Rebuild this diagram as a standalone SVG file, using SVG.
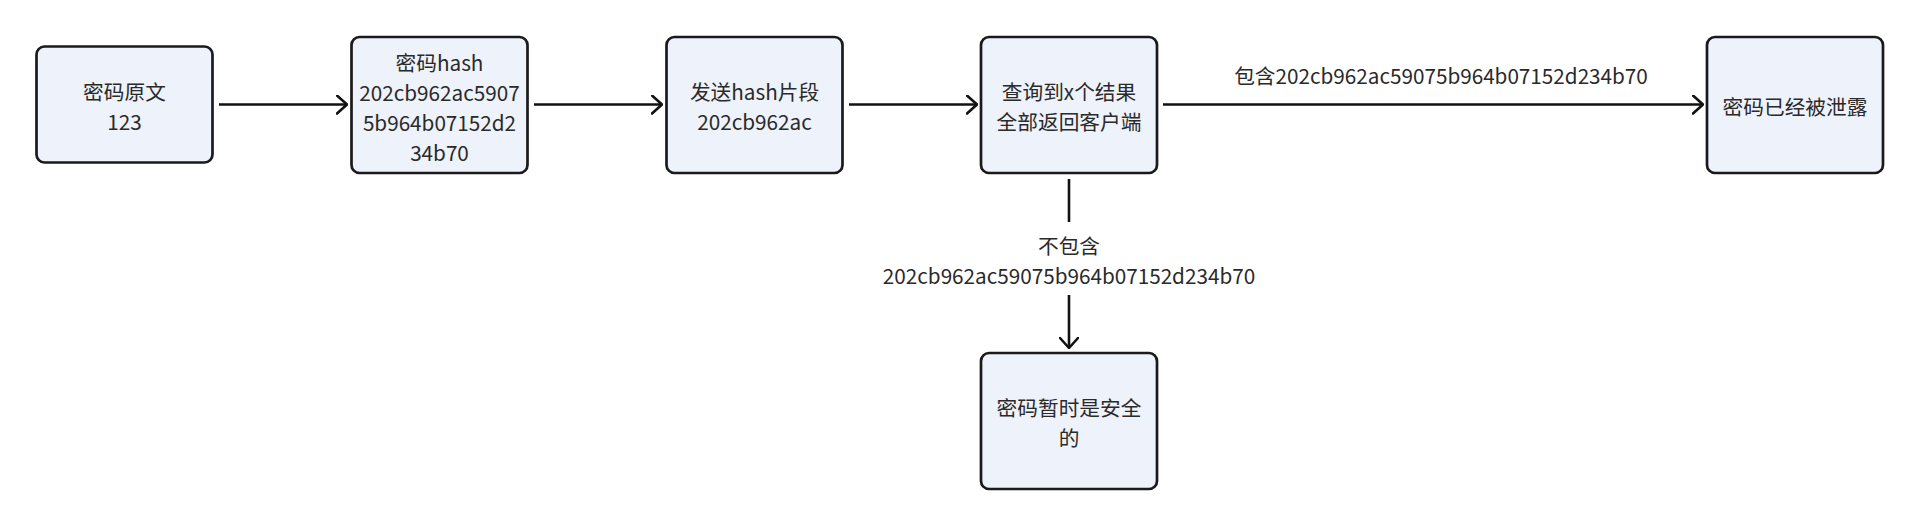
<svg xmlns="http://www.w3.org/2000/svg" width="1920" height="527" viewBox="0 0 1920 527">
<defs>
<marker id="arr" viewBox="0 0 12 20" refX="11" refY="10" markerWidth="12" markerHeight="20" markerUnits="userSpaceOnUse" orient="auto">
<path d="M1,1 L11,10 L1,19" fill="none" stroke="#111" stroke-width="2.6" stroke-linecap="round" stroke-linejoin="round"/>
</marker>
<style>
.box{fill:#eef2fb;stroke:#1a1a1a;stroke-width:2.7}
.t{font-family:"Noto Sans CJK SC","Noto Sans",sans-serif;font-size:20.7px;fill:#2a2a2a;text-anchor:middle;dominant-baseline:central}
.e{fill:none;stroke:#111;stroke-width:2.6}
</style>
</defs>
<rect width="1920" height="527" fill="#ffffff"/>
<g id="connectors">
<line class="e" x1="219" y1="104.5" x2="347" y2="104.5" marker-end="url(#arr)"/>
<line class="e" x1="534" y1="104.5" x2="662" y2="104.5" marker-end="url(#arr)"/>
<line class="e" x1="849" y1="104.5" x2="977" y2="104.5" marker-end="url(#arr)"/>
<line class="e" x1="1163" y1="104.5" x2="1703" y2="104.5" marker-end="url(#arr)"/>
<text class="t" x="1441" y="75">包含202cb962ac59075b964b07152d234b70</text>
<line class="e" x1="1069" y1="179" x2="1069" y2="222"/>
<line class="e" x1="1069" y1="295" x2="1069" y2="348" marker-end="url(#arr)"/>
<text class="t" x="1069" y="245">不包含</text>
<text class="t" x="1069" y="275">202cb962ac59075b964b07152d234b70</text>
</g>
<g id="n1">
<rect class="box" x="36.5" y="46.5" width="176" height="116" rx="8"/>
<text class="t" x="124.5" y="91">密码原文</text>
<text class="t" x="124.5" y="121">123</text>
</g>
<g id="n2">
<rect class="box" x="351.5" y="37" width="176" height="136" rx="8"/>
<text class="t" x="439.5" y="61.5">密码hash</text>
<text class="t" x="439.5" y="91.5">202cb962ac5907</text>
<text class="t" x="439.5" y="121.5">5b964b07152d2</text>
<text class="t" x="439.5" y="151.5">34b70</text>
</g>
<g id="n3">
<rect class="box" x="666.5" y="37" width="176" height="136" rx="8"/>
<text class="t" x="754.5" y="91">发送hash片段</text>
<text class="t" x="754.5" y="121">202cb962ac</text>
</g>
<g id="n4">
<rect class="box" x="981" y="37" width="176" height="136" rx="8"/>
<text class="t" x="1069" y="91">查询到x个结果</text>
<text class="t" x="1069" y="121">全部返回客户端</text>
</g>
<g id="n5">
<rect class="box" x="1707" y="37" width="176" height="136" rx="8"/>
<text class="t" x="1795" y="106">密码已经被泄露</text>
</g>
<g id="n6">
<rect class="box" x="981" y="353" width="176" height="136" rx="8"/>
<text class="t" x="1069" y="407">密码暂时是安全</text>
<text class="t" x="1069" y="437">的</text>
</g>
</svg>
